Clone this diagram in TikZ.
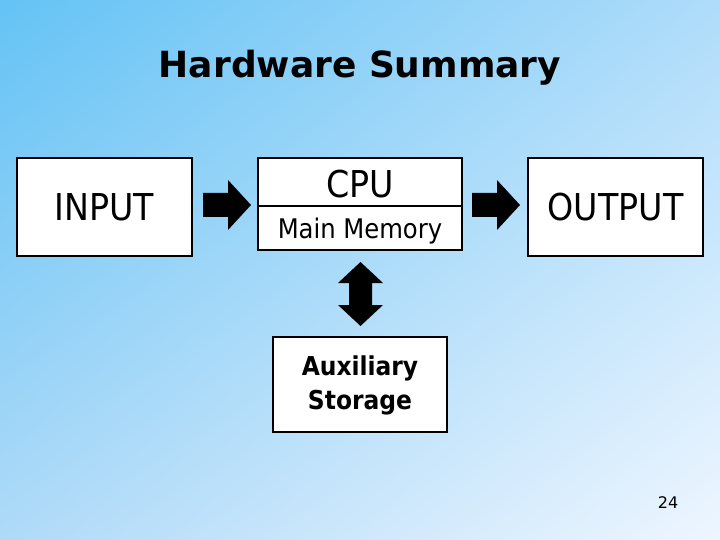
\documentclass[tikz,border=0pt]{standalone}
\usepackage{fontspec}
\setmainfont{DejaVu Sans}
\newfontfamily\condf{DejaVu Sans Condensed}
\usetikzlibrary{shapes.arrows,shadings}
\definecolor{ul}{RGB}{100,195,245}
\definecolor{ur}{RGB}{175,220,250}
\definecolor{ll}{RGB}{175,218,248}
\definecolor{lr}{RGB}{238,246,255}
\begin{document}
\begin{tikzpicture}[x=1pt,y=-1pt,
  box/.style={draw=black,line width=2pt,fill=white},
  blk/.style={fill=black}]
\useasboundingbox (0,0) rectangle (720,540);
\shade[upper left=ul,upper right=ur,lower left=ll,lower right=lr] (0,0) rectangle (720,540);
\node[font=\bfseries\fontsize{36}{40}\selectfont] (title) at (360,68) {Hardware Summary};
\draw[box] (17,158) rectangle (192,256);
\node[font=\condf\fontsize{37}{40}\selectfont] (in) at (104.5,207) {INPUT};
\draw[box] (258,158) rectangle (462,250);
\draw[line width=1.5pt] (258,206) -- (462,206);
\node[font=\condf\fontsize{37}{40}\selectfont] (cpu) at (360,184) {CPU};
\node[font=\condf\fontsize{27}{30}\selectfont] (mm) at (360,231) {Main Memory};
\draw[box] (528,158) rectangle (703,256);
\node[font=\condf\fontsize{37}{40}\selectfont] (out) at (615.5,207) {OUTPUT};
\draw[box] (273,337) rectangle (447,432);
\node[font=\bfseries\condf\fontsize{26}{34}\selectfont,align=center] (aux) at (360,385) {Auxiliary\\Storage};
\fill[blk] (203,193) -- (228,193) -- (228,180) -- (251,205) -- (228,230) -- (228,217) -- (203,217) -- cycle;
\fill[blk] (472,193) -- (497,193) -- (497,180) -- (520,205) -- (497,230) -- (497,217) -- (472,217) -- cycle;
\fill[blk] (360.5,262) -- (383,283) -- (372,283) -- (372,305) -- (383,305) -- (360.5,326) -- (338,305) -- (349,305) -- (349,283) -- (338,283) -- cycle;
\node[font=\fontsize{16}{18}\selectfont] (num) at (668,503) {24};
\end{tikzpicture}
\end{document}
